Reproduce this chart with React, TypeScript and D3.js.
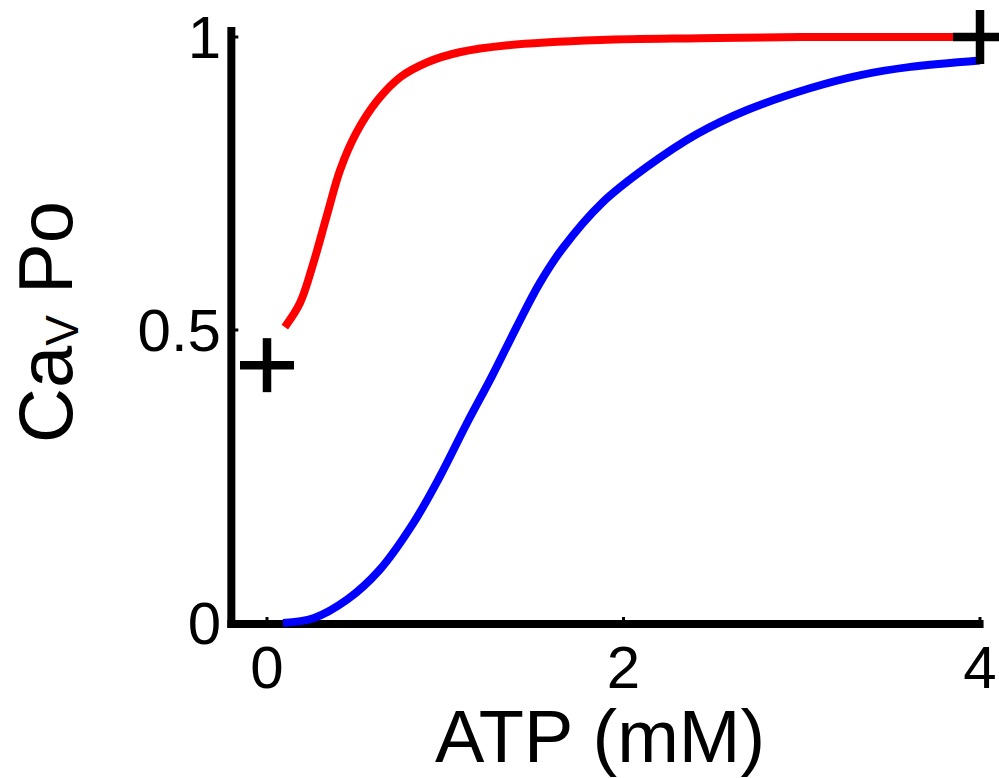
import * as d3 from "d3";

// red curve
const redX = [0.1, 0.185, 0.26, 0.34, 0.41, 0.5, 0.62, 0.75, 0.9, 1.08, 1.35, 1.87, 2.43, 3.0, 3.5, 4.0];
const redY = [0.505, 0.546, 0.614, 0.7, 0.773, 0.836, 0.892, 0.932, 0.957, 0.974, 0.986, 0.995, 0.998, 1.0, 1.0, 1.0];

// blue curve
const blueX = [0.09, 0.26, 0.45, 0.63, 0.82, 0.97, 1.12, 1.26, 1.4, 1.53, 1.66, 1.88, 2.13, 2.41, 2.69, 3.05, 3.33, 3.61, 4.0];
const blueY = [0.0, 0.008, 0.04, 0.09, 0.17, 0.25, 0.34, 0.42, 0.505, 0.58, 0.64, 0.717, 0.778, 0.834, 0.875, 0.913, 0.935, 0.949, 0.96];

// "+" markers
const crossX = [0, 4];
const crossY = [0.44, 1];

const xTicks = [0, 2, 4];
const yTicks = [0, 0.5, 1];
const yTickLabels = ["0", "0.5", "1"];

const W = 999;
const H = 778;
const font = "'Liberation Sans', Arial, sans-serif";

const x = d3.scaleLinear().domain([0, 4]).range([267, 980]);
const y = d3.scaleLinear().domain([0, 1]).range([623, 37]);

const line = d3
  .line<[number, number]>()
  .x((d) => x(d[0]))
  .y((d) => y(d[1]))
  .curve(d3.curveCatmullRom.alpha(0.5));

const App = () => {
  const red = redX.map((v, i) => [v, redY[i]] as [number, number]);
  const blue = blueX.map((v, i) => [v, blueY[i]] as [number, number]);
  const axX = x(-0.2);
  const axY = y(0) + 1;

  return (
    <svg
      width={W}
      height={H}
      style={{ position: "absolute", left: 0, top: 0, background: "#fff" }}
    >
      {/* axes */}
      <line x1={axX} x2={axX} y1={y(1.017)} y2={axY + 4} stroke="#000" strokeWidth={8} />
      <line x1={axX - 4} x2={x(4.02)} y1={axY} y2={axY} stroke="#000" strokeWidth={8} />
      {xTicks.map((t) => (
        <line key={"xt" + t} x1={x(t)} x2={x(t)} y1={axY} y2={axY - 7} stroke="#000" strokeWidth={3} />
      ))}
      {yTicks.map((t) => (
        <line key={"yt" + t} x1={axX} x2={axX + 7} y1={y(t)} y2={y(t)} stroke="#000" strokeWidth={3} />
      ))}

      {/* tick labels */}
      {xTicks.map((t) => (
        <text key={"xl" + t} x={x(t)} y={688} textAnchor="middle" fontFamily={font} fontSize={60}>
          {t}
        </text>
      ))}
      {yTicks.map((t, i) => (
        <text key={"yl" + t} x={221} y={y(t) + 21} textAnchor="end" fontFamily={font} fontSize={60}>
          {yTickLabels[i]}
        </text>
      ))}

      {/* axis titles */}
      <text x={600} y={762} textAnchor="middle" fontFamily={font} fontSize={74}>
        ATP (mM)
      </text>
      <text
        transform="translate(72,322) rotate(-90)"
        textAnchor="middle"
        fontFamily={font}
        fontSize={76}
      >
        <tspan>Ca</tspan>
        <tspan fontSize={46} dy={6}>V</tspan>
        <tspan dy={-6}> Po</tspan>
      </text>

      {/* curves */}
      <path d={line(red) || ""} fill="none" stroke="#ff0000" strokeWidth={8} />
      <path d={line(blue) || ""} fill="none" stroke="#0000ff" strokeWidth={8} />

      {/* markers */}
      {crossX.map((cx, i) => (
        <g key={"c" + i} stroke="#000" strokeWidth={8.5}>
          <line x1={x(cx) - 27} x2={x(cx) + 27} y1={y(crossY[i])} y2={y(crossY[i])} />
          <line x1={x(cx)} x2={x(cx)} y1={y(crossY[i]) - 27} y2={y(crossY[i]) + 27} />
        </g>
      ))}
    </svg>
  );
};

export default App;
